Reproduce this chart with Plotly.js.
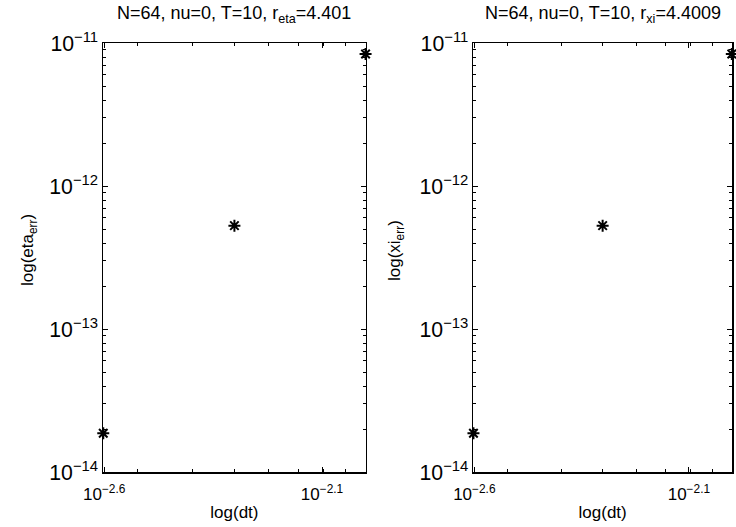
<!DOCTYPE html>
<html><head><meta charset="utf-8">
<script src="https://cdn.plot.ly/plotly-3.0.1.min.js"></script>
<style>html,body{margin:0;padding:0;background:#fff}#c{width:736px;height:527px}</style>
</head><body><div id="c"></div>
<script>
const dt = [0.0025, 0.005, 0.01];
const etaErr = [1.87e-14, 5.3e-13, 8.4e-12];
const xiErr = [1.87e-14, 5.3e-13, 8.4e-12];
const xTickVals = [Math.pow(10,-2.6), Math.pow(10,-2.1)];
const xTickText = ['10<sup>−2.6</sup>', '10<sup>−2.1</sup>'];
const titles = ['N=64, nu=0, T=10, r<sub>eta</sub>=4.401', 'N=64, nu=0, T=10, r<sub>xi</sub>=4.4009'];
const yTitles = ['log(eta<sub>err</sub>)', 'log(xi<sub>err</sub>)'];
const xTitle = 'log(dt)';

const FAM = 'Liberation Sans, Arial, sans-serif';
const font = {family:FAM, size:17, color:'#000'};
const titleFont = {family:FAM, size:18, color:'#000'};
const tfont = {family:FAM, size:17, color:'#000'};
const marker = {symbol:'asterisk-open', size:10, color:'#000', line:{color:'#000', width:2}};
const traces = [
  {x:dt, y:etaErr, mode:'markers', marker:marker, xaxis:'x', yaxis:'y', showlegend:false, cliponaxis:false},
  {x:dt, y:xiErr, mode:'markers', marker:marker, xaxis:'x2', yaxis:'y2', showlegend:false, cliponaxis:false}
];
function xa(dom){return {type:'log', domain:dom, range:[Math.log10(0.0025)-0.0005, -2+0.0005],
  tickmode:'array', tickvals:xTickVals, ticktext:xTickText, ticks:'inside', ticklen:5, tickcolor:'#000',
  showline:true, linecolor:'#000', linewidth:1.5, mirror:'ticks', showgrid:false, zeroline:false,
  tickfont:tfont, ticklabelstandoff:6,
  minor:{tickmode:'array', tickvals:[0.003,0.004,0.005,0.006,0.007,0.008,0.009], ticks:'inside', ticklen:3, tickcolor:'#000', showgrid:false},
  title:{text:xTitle, font:font, standoff:3}};}
function ya(dom, anchor){return {type:'log', domain:dom, anchor:anchor, range:[-14,-11], dtick:1,
  exponentformat:'power', ticks:'inside', ticklen:5, tickcolor:'#000',
  showline:true, linecolor:'#000', linewidth:1.5, mirror:'ticks', showgrid:false, zeroline:false,
  tickfont:tfont, minor:{dtick:'D1', ticks:'inside', ticklen:3, tickcolor:'#000', showgrid:false}};}
const layout = {
  width:736, height:527, margin:{l:0,r:0,t:0,b:0}, paper_bgcolor:'#fff', plot_bgcolor:'#fff', font:font,
  xaxis: Object.assign(xa([0.14,0.497]), {anchor:'y'}),
  yaxis: ya([0.104,0.918],'x'),
  xaxis2: Object.assign(xa([0.643,0.9946]), {anchor:'y2'}),
  yaxis2: ya([0.104,0.918],'x2'),
  annotations:[
    {text:titles[0], xref:'paper', yref:'paper', x:(0.14+0.497)/2, xanchor:'center', y:1-15/527, yanchor:'middle', showarrow:false, font:titleFont},
    {text:titles[1], xref:'paper', yref:'paper', x:(0.643+0.9946)/2, xanchor:'center', y:1-15/527, yanchor:'middle', showarrow:false, font:titleFont},
    {text:yTitles[0], xref:'paper', yref:'paper', x:29/736, xanchor:'center', y:1-250/527, yanchor:'middle', textangle:-90, showarrow:false, font:font},
    {text:yTitles[1], xref:'paper', yref:'paper', x:396/736, xanchor:'center', y:1-250/527, yanchor:'middle', textangle:-90, showarrow:false, font:font}
  ]
};
Plotly.newPlot('c', traces, layout, {displayModeBar:false, staticPlot:true});
</script></body></html>
